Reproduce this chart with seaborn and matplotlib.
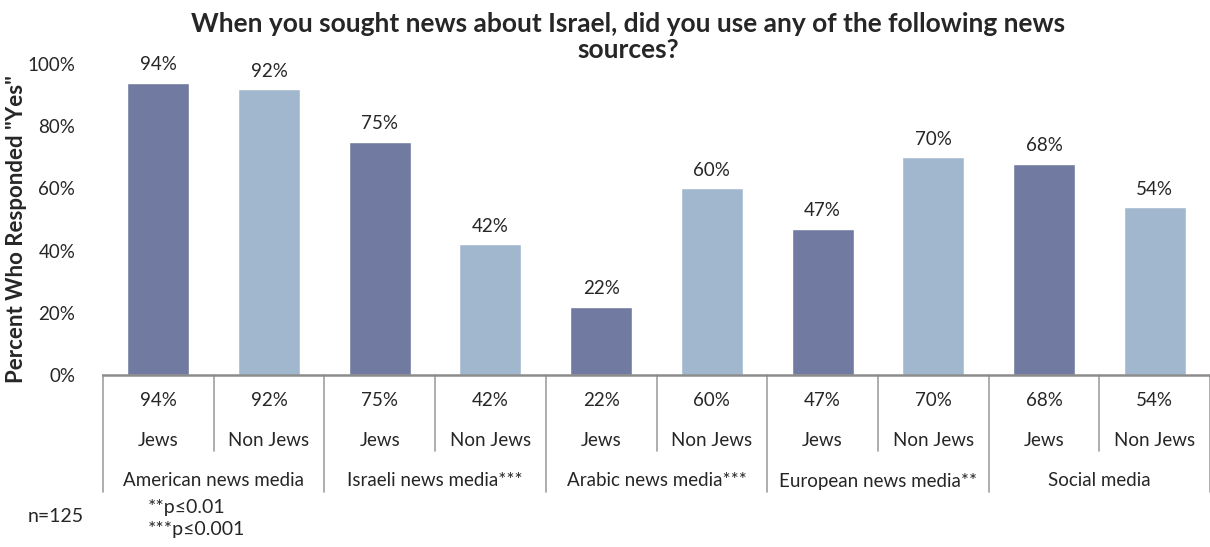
import numpy as np
import pandas as pd
import matplotlib
matplotlib.use("Agg")
import matplotlib.pyplot as plt
import matplotlib.transforms as mtransforms
import seaborn as sns

# Survey results: share answering "Yes", by news source and respondent group
sources = ["American news media", "Israeli news media***", "Arabic news media***",
           "European news media**", "Social media"]
groups = ["Jews", "Non Jews"]
jews = [94, 75, 22, 47, 68]
non_jews = [92, 42, 60, 70, 54]
y_ticks = [0, 20, 40, 60, 80, 100]

rows = []
for s, j, n in zip(sources, jews, non_jews):
    rows.append({"source": s, "group": "Jews", "value": j})
    rows.append({"source": s, "group": "Non Jews", "value": n})
df = pd.DataFrame(rows)
df["slot"] = [f"{r.source}|{r.group}" for r in df.itertuples()]

sns.set_theme(style="white")
plt.rcParams["font.family"] = ["Lato", "DejaVu Sans"]

W, H = 1210, 547
fig = plt.figure(figsize=(W / 100, H / 100), dpi=100)
ax = fig.add_axes([103 / W, 1 - 375 / H, (1210 - 103) / W, (375 - 64) / H])

palette = {"Jews": "#717aa0", "Non Jews": "#a1b7ce"}
sns.barplot(data=df, x="slot", y="value", hue="group", order=list(df["slot"]),
            palette=palette, dodge=False, width=0.56, edgecolor="white",
            linewidth=1.0, saturation=1, legend=False, ax=ax)

ax.set_xlim(-0.5, len(df) - 0.5)
ax.set_ylim(0, 100)
ax.set_yticks(y_ticks)
ax.set_yticklabels([f"{t}%" for t in y_ticks], fontsize=13.5)
ax.tick_params(axis="y", length=0, pad=20)
ax.set_xticks([])
ax.set_xlabel("")
ax.set_ylabel('Percent Who Responded "Yes"', fontsize=16, fontweight="bold")
ax.yaxis.set_label_coords(-76 / (1210 - 103), 0.47)
for side in ["left", "right", "top"]:
    ax.spines[side].set_visible(False)
ax.spines["bottom"].set_color("#8c8c8c")
ax.spines["bottom"].set_linewidth(1.8)

# value labels above each bar
for i, v in enumerate(df["value"]):
    ax.text(i, v + 3.0, f"{v}%", ha="center", va="bottom", fontsize=13.5,
            clip_on=False)

# data table under the axis
tr = mtransforms.blended_transform_factory(ax.transData, fig.transFigure)
def fy(px):
    return 1 - px / H

for i, r in enumerate(df.itertuples()):
    ax.text(i, fy(401), f"{r.value}%", transform=tr, ha="center", va="center",
            fontsize=13.5)
    ax.text(i, fy(440), r.group, transform=tr, ha="center", va="center",
            fontsize=13.5)
for k, s in enumerate(sources):
    ax.text(2 * k + 0.5, fy(481), s, transform=tr, ha="center", va="center",
            fontsize=13.5)

line_kw = dict(color="#a0a0a0", lw=1.2, clip_on=False)
for k in range(len(sources) + 1):
    x = 2 * k - 0.5
    ax.add_line(plt.Line2D([x, x], [fy(375), fy(492)], transform=tr, **line_kw))
for k in range(len(sources)):
    x = 2 * k + 0.5
    ax.add_line(plt.Line2D([x, x], [fy(375), fy(451)], transform=tr, **line_kw))

fig.text(628 / W, fy(37), "When you sought news about Israel, did you use any of the following news\nsources?",
         ha="center", va="center", fontsize=19, fontweight="bold", linespacing=1.12)
fig.text(28 / W, fy(516), "n=125", ha="left", va="center", fontsize=14)
fig.text(148 / W, fy(508), "**p≤0.01", ha="left", va="center", fontsize=14)
fig.text(148 / W, fy(530), "***p≤0.001", ha="left", va="center", fontsize=14)

fig.savefig("out.png", dpi=100)
